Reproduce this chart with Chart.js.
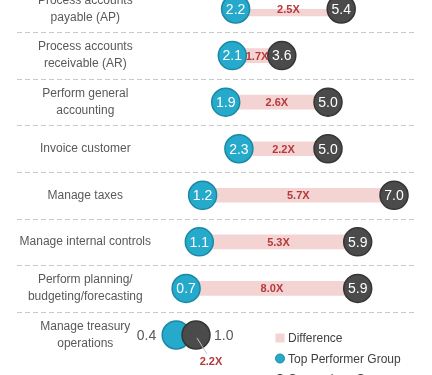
<!DOCTYPE html>
<html>
<head>
<meta charset="utf-8">
<script src="https://cdn.jsdelivr.net/npm/chart.js@4.4.1/dist/chart.umd.min.js"></script>
<style>
  html, body { margin: 0; padding: 0; background: #fff; }
  #wrap { width: 432px; height: 375px; position: relative; overflow: hidden; }
  #area { position: absolute; left: 0; top: -30px; width: 432px; height: 405px; }
</style>
</head>
<body>
<div id="wrap"><div id="area"><canvas id="grafico"></canvas></div></div>
<script>
const categorias = [
  ["Process accounts", "payable (AP)"],
  ["Process accounts", "receivable (AR)"],
  ["Perform general", "accounting"],
  ["Invoice customer"],
  ["Manage taxes"],
  ["Manage internal controls"],
  ["Perform planning/", "budgeting/forecasting"],
  ["Manage treasury", "operations"],
];
const topPerformer = [2.2, 2.1, 1.9, 2.3, 1.2, 1.1, 0.7, 0.4];
const comparacao = [5.4, 3.6, 5.0, 5.0, 7.0, 5.9, 5.9, 1.0];
const diferenca = ["2.5X", "1.7X", "2.6X", "2.2X", "5.7X", "5.3X", "8.0X", "2.2X"];
const legendas = ["Difference", "Top Performer Group", "Comparison Group"];

const fonte = '"Liberation Sans", Arial, sans-serif';
const corTeal = "#25aacb", bordaTeal = "#1b88a4";
const corCinza = "#4b4b4b", bordaCinza = "#353535";
const corRosa = "#f4d3d3";
const corVermelho = "#b5393b";
const raio = 14;
const desloc = 30; // canvas sobe 30px (primeira linha cortada no topo)

// linhas tracejadas entre as linhas
const separadores = {
  id: "separadores",
  beforeDatasetsDraw(chart) {
    const ctx = chart.ctx, y = chart.scales.y;
    ctx.save();
    ctx.strokeStyle = "#c9c9c9";
    ctx.lineWidth = 1;
    ctx.setLineDash([5, 3]);
    for (let i = 0; i < categorias.length - 1; i++) {
      const py = Math.round((y.getPixelForValue(i) + y.getPixelForValue(i + 1)) / 2) + 0.5;
      ctx.beginPath();
      ctx.moveTo(17, py);
      ctx.lineTo(chart.chartArea.right, py);
      ctx.stroke();
    }
    ctx.restore();
  },
};

// valores nos circulos e diferenca
const rotulos = {
  id: "rotulos",
  afterDatasetsDraw(chart) {
    const ctx = chart.ctx;
    const tp = chart.getDatasetMeta(1).data;
    const cg = chart.getDatasetMeta(2).data;
    ctx.save();
    ctx.textBaseline = "middle";
    for (let i = 0; i < tp.length; i++) {
      const a = tp[i], b = cg[i];
      if (b.x - a.x > 2 * raio) {
        ctx.font = "14px " + fonte;
        ctx.fillStyle = "#fff";
        ctx.textAlign = "center";
        ctx.fillText(topPerformer[i].toFixed(1), a.x, a.y + 1);
        ctx.fillText(comparacao[i].toFixed(1), b.x, b.y + 1);
        ctx.font = "bold 11px " + fonte;
        ctx.fillStyle = corVermelho;
        ctx.fillText(diferenca[i], (a.x + b.x) / 2, a.y + 1);
      } else {
        ctx.font = "14px " + fonte;
        ctx.fillStyle = "#595959";
        ctx.textAlign = "right";
        ctx.fillText(topPerformer[i].toFixed(1), a.x - raio - 6, a.y + 1);
        ctx.textAlign = "left";
        ctx.fillText(comparacao[i].toFixed(1), b.x + raio + 4, b.y + 1);
        ctx.strokeStyle = "#c4c4c4";
        ctx.lineWidth = 1;
        ctx.beginPath();
        ctx.moveTo(b.x + 1, b.y + 3);
        ctx.lineTo(b.x + 11, b.y + 19);
        ctx.stroke();
        ctx.font = "bold 11px " + fonte;
        ctx.fillStyle = corVermelho;
        ctx.textAlign = "center";
        ctx.fillText(diferenca[i], b.x + 15, b.y + 27);
      }
    }
    ctx.restore();
  },
};

// legenda no canto inferior direito
const legenda = {
  id: "legenda",
  afterDraw(chart) {
    const ctx = chart.ctx;
    const x = 280, y0 = 338 + desloc, passo = 20.5;
    ctx.save();
    ctx.font = "12px " + fonte;
    ctx.textBaseline = "middle";
    ctx.textAlign = "left";
    ctx.fillStyle = corRosa;
    ctx.fillRect(x - 4.5, y0 - 4.5, 9, 9);
    const marcas = [[corTeal, bordaTeal], [corCinza, bordaCinza]];
    marcas.forEach((m, k) => {
      ctx.beginPath();
      ctx.arc(x, y0 + passo * (k + 1), 4.5, 0, Math.PI * 2);
      ctx.fillStyle = m[0];
      ctx.fill();
      ctx.strokeStyle = m[1];
      ctx.lineWidth = 1;
      ctx.stroke();
    });
    ctx.fillStyle = "#404040";
    legendas.forEach((t, k) => ctx.fillText(t, x + 8, y0 + passo * k + 1));
    ctx.restore();
  },
};

new Chart(document.getElementById("grafico"), {
  data: {
    labels: categorias,
    datasets: [
      {
        type: "bar",
        label: legendas[0],
        data: topPerformer.map((v, i) => [v, comparacao[i]]),
        backgroundColor: corRosa,
        barThickness: 14,
        order: 3,
      },
      {
        type: "line",
        label: legendas[1],
        data: topPerformer,
        showLine: false,
        pointRadius: raio,
        pointHoverRadius: raio,
        pointBorderWidth: 1.5,
        pointBackgroundColor: corTeal,
        pointBorderColor: bordaTeal,
        clip: false,
        order: 2,
      },
      {
        type: "line",
        label: legendas[2],
        data: comparacao,
        showLine: false,
        pointRadius: raio,
        pointHoverRadius: raio,
        pointBorderWidth: 1.5,
        pointBackgroundColor: corCinza,
        pointBorderColor: bordaCinza,
        clip: false,
        order: 1,
      },
    ],
  },
  options: {
    indexAxis: "y",
    responsive: true,
    maintainAspectRatio: false,
    animation: false,
    events: [],
    layout: { padding: { left: 17, right: 17, top: 9 + desloc, bottom: 40 } },
    plugins: { legend: { display: false }, tooltip: { enabled: false } },
    scales: {
      x: { display: false, min: 0, max: 7.636 },
      y: {
        type: "category",
        offset: false,
        grid: { display: false },
        border: { display: false },
        ticks: {
          crossAlign: "center",
          padding: 4,
          color: "#595959",
          font: { family: fonte, size: 12, lineHeight: 1.42 },
        },
        afterFit: (s) => {
          s.width = 146;
          s.paddingTop = 0;
          s.paddingBottom = 0;
        },
      },
    },
  },
  plugins: [separadores, rotulos, legenda],
});
</script>
</body>
</html>
